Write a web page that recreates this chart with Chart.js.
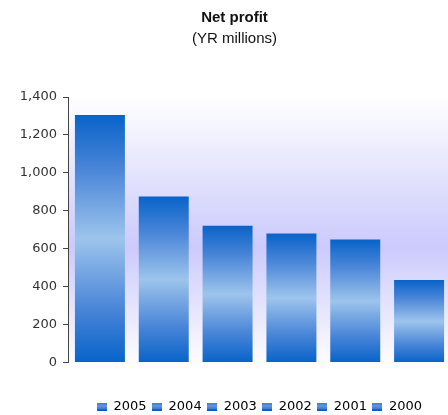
<!DOCTYPE html>
<html>
<head>
<meta charset="utf-8">
<script src="https://cdn.jsdelivr.net/npm/chart.js@4/dist/chart.umd.min.js"></script>
<style>
html,body{margin:0;padding:0;background:#fff;overflow:hidden;}
#wrap{width:451px;height:415px;position:relative;}
</style>
</head>
<body>
<div id="wrap"><canvas id="cProfit"></canvas></div>
<script>
// Net profit by year, YR millions
var years=["2005","2004","2003","2002","2001","2000"];
var profit=[1305,875,721,680,648,435];
var yTicks=[0,200,400,600,800,1000,1200,1400];

var TFONT="'Liberation Sans', Arial, sans-serif";
var AFONT="'DejaVu Sans', Verdana, sans-serif";

// vertical blue shading: dark at both ends, light in the middle
function barGrad(ctx,top,bottom){
  var g=ctx.createLinearGradient(0,top,0,bottom);
  g.addColorStop(0,"#0863c9");
  g.addColorStop(0.22,"#4a86d8");
  g.addColorStop(0.5,"#9dc4ec");
  g.addColorStop(0.78,"#4a86d8");
  g.addColorStop(1,"#0863c9");
  return g;
}

// lavender haze behind the bars
var plotBg={
  id:"plotBg",
  beforeDatasetsDraw:function(chart){
    var a=chart.chartArea,ctx=chart.ctx;
    var g=ctx.createLinearGradient(0,a.top,0,a.bottom+6);
    g.addColorStop(0,"#ffffff");
    g.addColorStop(0.55,"#cbcafc");
    g.addColorStop(1,"#ffffff");
    ctx.save();
    ctx.fillStyle=g;
    ctx.fillRect(a.left+1,a.top,a.right-a.left,a.bottom-a.top+6);
    ctx.restore();
  }
};

// nudge the legend row a little lower than the layout puts it
var LEGEND_SHIFT=8;
var legendNudge={
  id:"legendNudge",
  afterLayout:function(chart){
    var lg=chart.legend;
    if(!lg)return;
    lg.top+=LEGEND_SHIFT;lg.bottom+=LEGEND_SHIFT;
    if(lg.legendHitBoxes)lg.legendHitBoxes.forEach(function(h){h.top+=LEGEND_SHIFT;});
  }
};

var legendPatt=null;
function legendBox(){
  if(legendPatt)return legendPatt;
  var c=document.createElement("canvas");
  c.width=10;c.height=8;
  var x=c.getContext("2d");
  var rows=["#1565c8","#6a9ee0","#2b70cf","#8db7ea","#2b70cf","#6a9ee0","#1565c8","#0d5fc4"];
  rows.forEach(function(col,i){x.fillStyle=col;x.fillRect(0,i,10,1);});
  legendPatt=c;
  return c;
}

new Chart(document.getElementById("cProfit"),{
  type:"bar",
  data:{
    labels:years,
    datasets:[{
      label:"Net profit",
      data:profit,
      backgroundColor:function(ctx){
        var ch=ctx.chart;
        if(!ch.chartArea)return "#0863c9";
        var base=ch.scales.y.getPixelForValue(0);
        var top=ch.scales.y.getPixelForValue(ctx.raw);
        if(!isFinite(top))return "#0863c9";
        return barGrad(ch.ctx,top,base);
      },
      borderWidth:0,
      barPercentage:0.783,
      categoryPercentage:1
    }]
  },
  options:{
    responsive:true,
    maintainAspectRatio:false,
    animation:false,
    layout:{padding:{top:0,right:0,bottom:0,left:18}},
    plugins:{
      title:{
        display:true,
        text:"Net profit",
        color:"#111",
        font:{family:TFONT,size:15,weight:"bold"},
        padding:{top:9,bottom:3}
      },
      subtitle:{
        display:true,
        text:"(YR millions)",
        color:"#111",
        font:{family:TFONT,size:15},
        padding:{top:0,bottom:49}
      },
      legend:{
        display:true,
        position:"bottom",
        fullSize:false,
        labels:{
          color:"#111",
          font:{family:AFONT,size:13},
          boxWidth:10,
          boxHeight:8,
          padding:5.5,
          usePointStyle:true,
          generateLabels:function(chart){
            var img=legendBox();
            return years.map(function(y,i){
              return{text:y,pointStyle:img,fillStyle:"#1565c8",strokeStyle:"#1565c8",lineWidth:0,index:i,datasetIndex:0,hidden:false};
            });
          }
        },
        onClick:function(){}
      },
      tooltip:{enabled:false}
    },
    scales:{
      x:{
        grid:{display:false,drawTicks:false},
        border:{display:false},
        ticks:{display:false},
        afterFit:function(ax){ax.height=24;}
      },
      y:{
        min:0,max:1400,
        afterBuildTicks:function(ax){ax.ticks=yTicks.map(function(v){return{value:v};});},
        afterFit:function(ax){ax.width=50;},
        grid:{display:true,drawOnChartArea:false,drawTicks:true,tickLength:5,color:"#444"},
        border:{display:true,color:"#444",width:1},
        ticks:{
          color:"#333",
          font:{family:AFONT,size:13},
          padding:6,
          callback:function(v){return v.toLocaleString("en-US");}
        }
      }
    }
  },
  plugins:[plotBg,legendNudge]
});
</script>
</body>
</html>
